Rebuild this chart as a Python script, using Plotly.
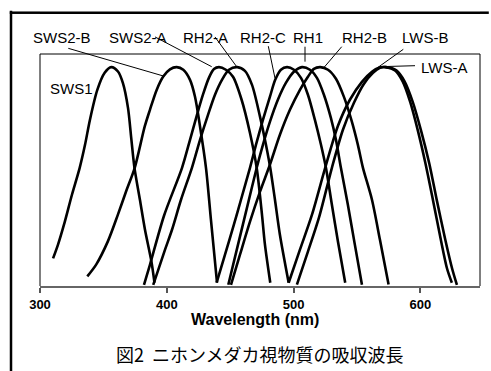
import plotly.graph_objects as go

# Normalized absorbance spectra of medaka visual pigments
SWS1_x = [310.3, 314.2, 318.9, 325.2, 331.3, 335.5, 339.4, 345.2, 351.0, 356.2, 361.5, 365.4, 369.4, 372.1, 374.5, 378.8, 382.8, 387.8, 390.3]
SWS1_y = [0.126, 0.189, 0.280, 0.417, 0.540, 0.645, 0.760, 0.896, 0.974, 1.000, 0.980, 0.927, 0.814, 0.668, 0.540, 0.394, 0.257, 0.114, 0.015]

SWS2B_x = [337.3, 344.4, 353.6, 361.5, 368.0, 374.7, 382.6, 386.7, 392.0, 397.2, 402.5, 407.8, 413.0, 418.3, 422.2, 426.2, 430.9, 434.8, 439.6]
SWS2B_y = [0.044, 0.099, 0.205, 0.327, 0.434, 0.540, 0.729, 0.805, 0.896, 0.957, 0.990, 1.000, 0.988, 0.942, 0.866, 0.729, 0.540, 0.303, 0.015]

SWS2A_x = [382.0, 386.7, 397.8, 412.0, 418.3, 423.8, 428.5, 433.2, 437.2, 441.1, 446.6, 452.2, 459.0, 465.6, 470.9, 475.0, 477.4, 481.6]
SWS2A_y = [0.005, 0.097, 0.321, 0.540, 0.668, 0.782, 0.874, 0.951, 0.991, 1.000, 0.988, 0.956, 0.851, 0.699, 0.539, 0.330, 0.189, 0.015]

RH2A_x = [389.3, 398.6, 404.1, 411.2, 419.8, 426.2, 432.5, 438.0, 443.5, 449.0, 455.6, 461.6, 467.2, 473.5, 478.2, 481.6, 485.3, 489.2, 496.1]
RH2A_y = [0.005, 0.166, 0.257, 0.394, 0.540, 0.668, 0.782, 0.874, 0.942, 0.988, 1.000, 0.983, 0.919, 0.774, 0.645, 0.539, 0.394, 0.234, 0.015]

RH2C_x = [439.3, 445.9, 452.9, 458.5, 465.6, 470.3, 475.8, 481.3, 485.5, 490.0, 494.8, 500.3, 505.8, 511.3, 516.8, 521.6, 525.5, 530.2, 535.0, 540.7]
RH2C_y = [0.015, 0.143, 0.280, 0.394, 0.540, 0.645, 0.759, 0.864, 0.942, 0.988, 1.000, 0.988, 0.951, 0.874, 0.759, 0.645, 0.540, 0.371, 0.202, 0.015]

RH1_x = [448.5, 456.1, 463.2, 470.9, 475.8, 481.3, 487.6, 493.9, 500.2, 506.6, 512.9, 518.4, 523.9, 529.4, 533.4, 537.3, 542.8, 548.3, 553.9]
RH1_y = [0.006, 0.188, 0.357, 0.540, 0.645, 0.750, 0.851, 0.928, 0.979, 1.000, 0.988, 0.951, 0.874, 0.768, 0.668, 0.540, 0.371, 0.189, 0.006]

RH2B_x = [450.6, 457.7, 465.6, 473.5, 481.3, 489.2, 497.1, 505.0, 511.3, 516.0, 521.0, 527.1, 533.4, 539.7, 546.0, 550.7, 554.7, 561.8, 568.1, 574.9]
RH2B_y = [0.005, 0.143, 0.294, 0.431, 0.554, 0.691, 0.805, 0.896, 0.956, 0.992, 1.000, 0.988, 0.947, 0.864, 0.750, 0.645, 0.540, 0.394, 0.211, 0.007]

LWSA_x = [496.1, 505.0, 514.5, 524.9, 535.0, 544.4, 553.9, 561.8, 567.3, 572.3, 580.0, 586.0, 592.0, 598.0, 604.0, 610.0, 616.0, 621.0, 624.8]
LWSA_y = [0.015, 0.166, 0.326, 0.540, 0.732, 0.851, 0.933, 0.979, 0.997, 1.000, 0.985, 0.935, 0.840, 0.710, 0.560, 0.390, 0.215, 0.080, 0.015]

LWSB_x = [502.6, 511.3, 520.0, 530.2, 538.9, 547.6, 555.5, 562.6, 568.1, 572.8, 581.0, 587.5, 594.0, 600.5, 607.0, 613.0, 619.5, 625.0, 628.8]
LWSB_y = [0.006, 0.157, 0.312, 0.540, 0.714, 0.837, 0.924, 0.974, 0.997, 1.000, 0.985, 0.935, 0.840, 0.710, 0.560, 0.390, 0.215, 0.080, 0.005]

series = [
    ("SWS1", SWS1_x, SWS1_y),
    ("SWS2-B", SWS2B_x, SWS2B_y),
    ("SWS2-A", SWS2A_x, SWS2A_y),
    ("RH2-A", RH2A_x, RH2A_y),
    ("RH2-C", RH2C_x, RH2C_y),
    ("RH1", RH1_x, RH1_y),
    ("RH2-B", RH2B_x, RH2B_y),
    ("LWS-A", LWSA_x, LWSA_y),
    ("LWS-B", LWSB_x, LWSB_y),
]

tick_vals = [300, 400, 500, 600]
tick_text = ["300", "400", "500", "600"]

top_labels = [("SWS2-B", 0.0493), ("SWS2-A", 0.2216), ("RH2-A", 0.3769), ("RH2-C", 0.5057),
              ("RH1", 0.6098), ("RH2-B", 0.7368), ("LWS-B", 0.875)]
pointers = [
    (0.0643, 1.0245, 0.2802, 0.9053),
    (0.2614, 1.0736, 0.3902, 0.9453),
    (0.3977, 1.0736, 0.4470, 0.9453),
    (0.5189, 1.0336, 0.5341, 0.8954),
    (0.6023, 1.0314, 0.6023, 0.9669),
    (0.6857, 1.0314, 0.6439, 0.9384),
    (0.8257, 1.0202, 0.7652, 0.9384),
    (0.7727, 0.9453, 0.8523, 0.9496),
]

fig = go.Figure()
for name, xs, ys in series:
    fig.add_trace(go.Scatter(x=xs, y=ys, mode="lines", name=name,
                             line=dict(color="black", width=2.6, shape="spline", smoothing=0.8),
                             showlegend=False, hoverinfo="skip"))

font_lbl = dict(family="Liberation Sans, Arial, sans-serif", size=15, color="black")
ann = []
for txt, xp in top_labels:
    ann.append(dict(text=txt, x=xp, y=1.0732, xref="paper", yref="paper", showarrow=False,
                    xanchor="center", yanchor="middle", font=font_lbl))
ann.append(dict(text="LWS-A", x=0.9186, y=0.9397, xref="paper", yref="paper", showarrow=False,
                xanchor="center", yanchor="middle", font=font_lbl))
ann.append(dict(text="SWS1", x=0.0712, y=0.8515, xref="paper", yref="paper", showarrow=False,
                xanchor="center", yanchor="middle", font=font_lbl))
ann.append(dict(text="<b>Wavelength (nm)</b>", x=0.4886, y=-0.143, xref="paper", yref="paper",
                showarrow=False, xanchor="center", yanchor="middle",
                font=dict(family="Liberation Sans, Arial, sans-serif", size=16, color="black")))
ann.append(dict(text="図2  ニホンメダカ視物質の吸収波長", x=0.5, y=-0.2914, xref="paper", yref="paper",
                showarrow=False, xanchor="center", yanchor="middle",
                font=dict(family="Noto Sans CJK JP", size=18, color="black")))

shapes = []
for x0, y0, x1, y1 in pointers:
    shapes.append(dict(type="line", xref="paper", yref="paper", x0=x0, y0=y0, x1=x1, y1=y1,
                       line=dict(color="black", width=1)))
shapes.append(dict(type="line", xref="paper", yref="paper", x0=0, y0=0, x1=0, y1=1, line=dict(color="black", width=1)))
shapes.append(dict(type="line", xref="paper", yref="paper", x0=0, y0=1, x1=1, y1=1, line=dict(color="black", width=1)))
shapes.append(dict(type="line", xref="paper", yref="paper", x0=1, y0=0, x1=1, y1=1, line=dict(color="black", width=1)))
# outer thick frame: left edge and top edge (top split into segments)
shapes.append(dict(type="line", xref="paper", yref="paper", x0=-0.0659, y0=-0.45, x1=-0.0659, y1=1.1868,
                   line=dict(color="black", width=2.5)))
for sx0, sx1 in [(-0.0687, 0.0), (0.0, 0.5), (0.5, 1.0), (1.0, 1.02)]:
    shapes.append(dict(type="line", xref="paper", yref="paper", x0=sx0, y0=1.178, x1=sx1, y1=1.178,
                       line=dict(color="black", width=2.5)))

fig.update_layout(
    width=491, height=371,
    margin=dict(l=40, r=11, t=54, b=85),
    paper_bgcolor="white", plot_bgcolor="white",
    annotations=ann, shapes=shapes,
    xaxis=dict(range=[300, 647], tickvals=tick_vals, ticktext=tick_text, ticks="outside", ticklen=5,
               tickcolor="#555555", tickwidth=1.5, showline=True, linecolor="#666666", linewidth=2,
               showgrid=False, zeroline=False,
               tickfont=dict(family="Liberation Sans, Arial, sans-serif", size=13, color="black", weight="bold")),
    yaxis=dict(range=[0, 1.06], visible=False, showgrid=False, zeroline=False),
)

fig.write_html("out.html", config={"displayModeBar": False},
               post_script="document.body.style.margin='0';document.body.style.overflow='hidden';")
